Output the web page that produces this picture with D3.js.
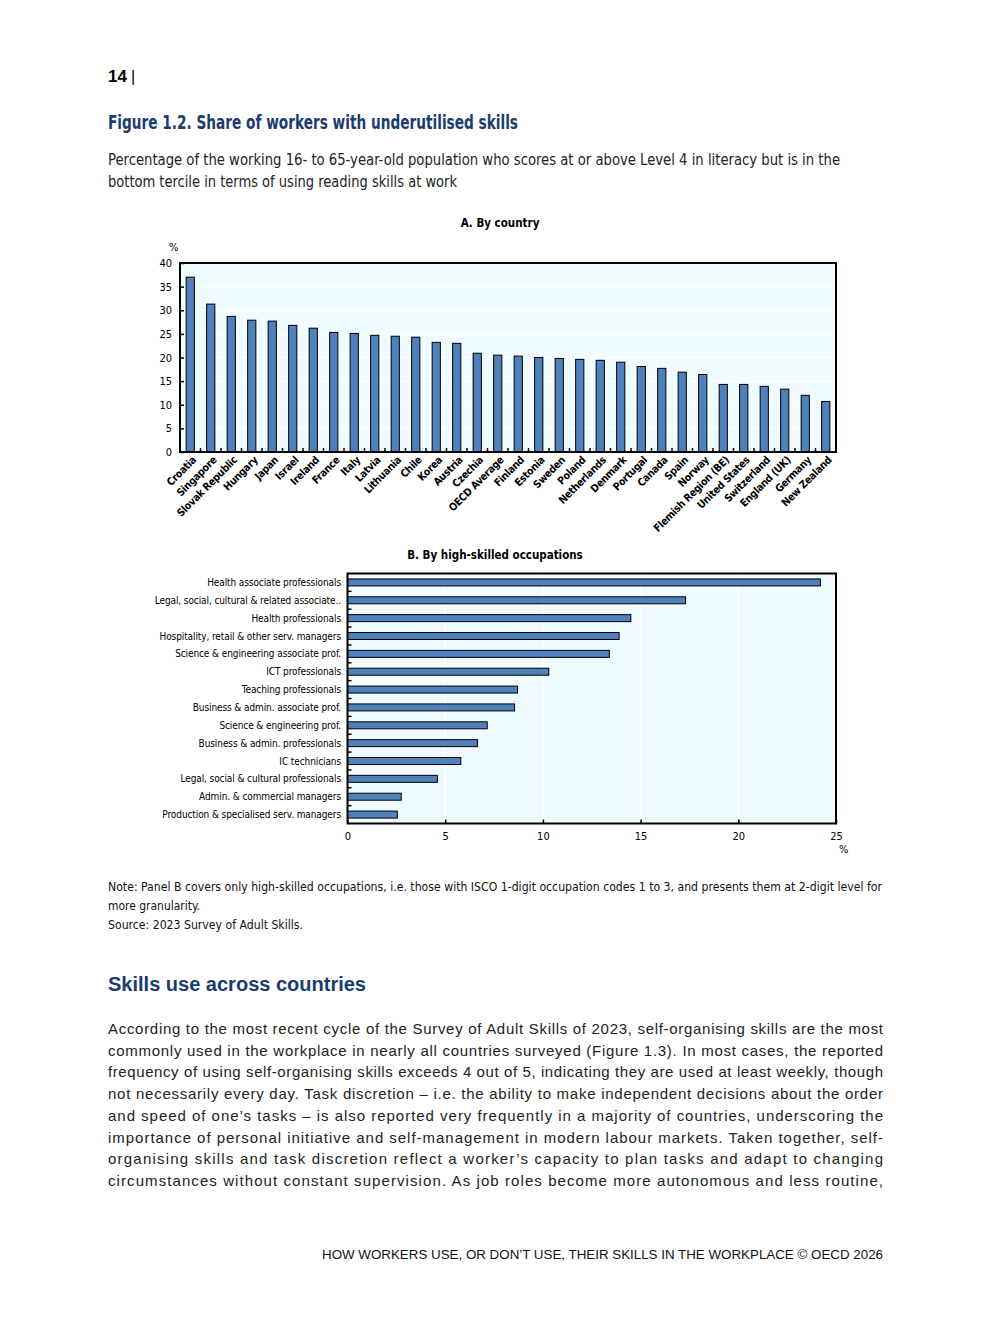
<!DOCTYPE html>
<html>
<head>
<meta charset="utf-8">
<script src="https://cdn.jsdelivr.net/npm/d3@7"></script>
<style>
  body { margin: 0; background: #fff; }
  svg { display: block; }
</style>
</head>
<body>
<div id="page"></div>
<script>
// Panel A data
const countries = ["Croatia", "Singapore", "Slovak Republic", "Hungary", "Japan", "Israel", "Ireland", "France",
  "Italy", "Latvia", "Lithuania", "Chile", "Korea", "Austria", "Czechia", "OECD Average", "Finland", "Estonia",
  "Sweden", "Poland", "Netherlands", "Denmark", "Portugal", "Canada", "Spain", "Norway", "Flemish Region (BE)",
  "United States", "Switzerland", "England (UK)", "Germany", "New Zealand"]
const countryValues = [37.0, 31.3, 28.7, 27.9, 27.7, 26.8, 26.2, 25.3, 25.1, 24.7, 24.5, 24.3, 23.2, 23.0, 20.9,
  20.5, 20.3, 20.0, 19.8, 19.6, 19.4, 19.0, 18.1, 17.7, 16.9, 16.4, 14.3, 14.3, 13.9, 13.3, 12.0, 10.7]
const yTicksA = [0, 5, 10, 15, 20, 25, 30, 35, 40]

// Panel B data
const occupations = ["Health associate professionals", "Legal, social, cultural & related associate..",
  "Health professionals", "Hospitality, retail & other serv. managers", "Science & engineering associate prof.",
  "ICT professionals", "Teaching professionals", "Business & admin. associate prof.", "Science & engineering prof.",
  "Business & admin. professionals", "IC technicians", "Legal, social & cultural professionals",
  "Admin. & commercial managers", "Production & specialised serv. managers"]
const occupationValues = [24.2, 17.3, 14.5, 13.9, 13.4, 10.3, 8.7, 8.55, 7.15, 6.65, 5.8, 4.6, 2.75, 2.55]
const xTicksB = [0, 5, 10, 15, 20, 25]

const bodyLines = [
  "According to the most recent cycle of the Survey of Adult Skills of 2023, self-organising skills are the most",
  "commonly used in the workplace in nearly all countries surveyed (Figure 1.3). In most cases, the reported",
  "frequency of using self-organising skills exceeds 4 out of 5, indicating they are used at least weekly, though",
  "not necessarily every day. Task discretion \u2013 i.e. the ability to make independent decisions about the order",
  "and speed of one\u2019s tasks \u2013 is also reported very frequently in a majority of countries, underscoring the",
  "importance of personal initiative and self-management in modern labour markets. Taken together, self-",
  "organising skills and task discretion reflect a worker\u2019s capacity to plan tasks and adapt to changing",
  "circumstances without constant supervision. As job roles become more autonomous and less routine,"
]

const narrow = "'Liberation Sans Narrow','Arial Narrow','DejaVu Sans Condensed',sans-serif"
const sans = "'Liberation Sans',Arial,sans-serif"
const navy = "#1b3c6e"
const barFill = "#4f81bd"
const plotBg = "#f0fbff"

let svg = d3.select("#page").append("svg")
  .attr("width", 992)
  .attr("height", 1323)

// page header text
svg.append("text").attr("x", 108).attr("y", 82)
  .attr("font-family", sans).attr("font-weight", "bold").attr("font-size", 17).attr("fill", "#000")
  .text("14")
svg.append("text").attr("x", 131).attr("y", 82)
  .attr("font-family", sans).attr("font-size", 16).attr("fill", "#000")
  .text("|")

svg.append("text").attr("x", 108).attr("y", 129)
  .attr("font-family", narrow).attr("font-weight", "bold").attr("font-size", 19).attr("fill", navy)
  .attr("textLength", 410).attr("lengthAdjust", "spacingAndGlyphs")
  .text("Figure 1.2. Share of workers with underutilised skills")

let sub = ["Percentage of the working 16- to 65-year-old population who scores at or above Level 4 in literacy but is in the",
  "bottom tercile in terms of using reading skills at work"]
let subLen = [732, 349]
sub.forEach((s, i) => {
  svg.append("text").attr("x", 108).attr("y", 165 + i * 22)
    .attr("font-family", narrow).attr("font-size", 16).attr("fill", "#222")
    .attr("textLength", subLen[i]).attr("lengthAdjust", "spacingAndGlyphs")
    .text(s)
})

// ---------- Panel A ----------
let xA = d3.scaleBand().domain(countries).range([180, 836])
let yA = d3.scaleLinear().domain([0, 40]).range([452, 263])
let barW = xA.bandwidth() * 0.4

svg.append("text").attr("x", 500).attr("y", 227).attr("text-anchor", "middle")
  .attr("font-family", narrow).attr("font-weight", "bold").attr("font-size", 11.5)
  .text("A. By country")

svg.append("text").attr("x", 169).attr("y", 251)
  .attr("font-family", narrow).attr("font-size", 11)
  .text("%")

let gA = svg.append("g")
gA.append("rect")
  .attr("x", xA.range()[0]).attr("y", yA(40))
  .attr("width", xA.range()[1] - xA.range()[0]).attr("height", yA(0) - yA(40))
  .attr("fill", plotBg)

gA.selectAll("line.grid")
  .data(yTicksA.slice(1, -1))
  .enter().append("line")
  .attr("class", "grid")
  .attr("x1", xA.range()[0]).attr("x2", xA.range()[1])
  .attr("y1", d => yA(d)).attr("y2", d => yA(d))
  .attr("stroke", "#fff").attr("stroke-width", 1)

gA.selectAll("rect.bar")
  .data(countries)
  .enter().append("rect")
  .attr("class", "bar")
  .attr("x", d => xA(d) + (xA.bandwidth() - barW) / 2)
  .attr("y", (d, i) => yA(countryValues[i]))
  .attr("width", barW)
  .attr("height", (d, i) => yA(0) - yA(countryValues[i]))
  .attr("fill", barFill)
  .attr("stroke", "#000").attr("stroke-width", 1)

// category ticks between bars
gA.selectAll("line.ctick")
  .data(countries.slice(1))
  .enter().append("line")
  .attr("class", "ctick")
  .attr("x1", d => xA(d)).attr("x2", d => xA(d))
  .attr("y1", yA(0)).attr("y2", yA(0) - 4)
  .attr("stroke", "#000").attr("stroke-width", 1.5)

let leftAxisA = d3.axisLeft(yA).tickValues(yTicksA).tickSizeInner(-4).tickSizeOuter(0).tickPadding(8)
let yAxisA = gA.append("g")
  .attr("transform", `translate(${xA.range()[0]},0)`)
  .call(leftAxisA)
yAxisA.select(".domain").remove()
yAxisA.selectAll("line").attr("stroke-width", 1.5)
yAxisA.selectAll("text").attr("font-family", narrow).attr("font-size", 11).attr("fill", "#000")

gA.append("rect")
  .attr("x", xA.range()[0]).attr("y", yA(40))
  .attr("width", xA.range()[1] - xA.range()[0]).attr("height", yA(0) - yA(40))
  .attr("fill", "none").attr("stroke", "#000").attr("stroke-width", 2)

gA.selectAll("text.clabel")
  .data(countries)
  .enter().append("text")
  .attr("class", "clabel")
  .attr("transform", d => `translate(${xA(d) + xA.bandwidth() / 2 + 4},${yA(0) + 6}) rotate(-45)`)
  .attr("text-anchor", "end")
  .attr("dy", "0.35em")
  .attr("font-family", narrow).attr("font-weight", "bold").attr("font-size", 10.5)
  .attr("letter-spacing", -0.3)
  .text(d => d)

// ---------- Panel B ----------
let yB = d3.scaleBand().domain(occupations).range([573.5, 823.5])
let xB = d3.scaleLinear().domain([0, 25]).range([347.5, 836])
let barH = 7

svg.append("text").attr("x", 495).attr("y", 559).attr("text-anchor", "middle")
  .attr("font-family", narrow).attr("font-weight", "bold").attr("font-size", 11.5)
  .text("B. By high-skilled occupations")

let gB = svg.append("g")
gB.append("rect")
  .attr("x", xB(0)).attr("y", yB.range()[0])
  .attr("width", xB(25) - xB(0)).attr("height", yB.range()[1] - yB.range()[0])
  .attr("fill", plotBg)

gB.selectAll("line.grid")
  .data(xTicksB.slice(1, -1))
  .enter().append("line")
  .attr("class", "grid")
  .attr("x1", d => xB(d)).attr("x2", d => xB(d))
  .attr("y1", yB.range()[0]).attr("y2", yB.range()[1])
  .attr("stroke", "#fff").attr("stroke-width", 1.5)

gB.selectAll("rect.bar")
  .data(occupations)
  .enter().append("rect")
  .attr("class", "bar")
  .attr("x", xB(0))
  .attr("y", d => yB(d) + (yB.bandwidth() - barH) / 2)
  .attr("width", (d, i) => xB(occupationValues[i]) - xB(0))
  .attr("height", barH)
  .attr("fill", barFill)
  .attr("stroke", "#000").attr("stroke-width", 1)

gB.selectAll("line.ctick")
  .data(occupations.slice(1))
  .enter().append("line")
  .attr("class", "ctick")
  .attr("x1", xB(0)).attr("x2", xB(0) + 4)
  .attr("y1", d => yB(d)).attr("y2", d => yB(d))
  .attr("stroke", "#000").attr("stroke-width", 1.5)

let bottomAxisB = d3.axisBottom(xB).tickValues(xTicksB).tickSizeInner(-4).tickSizeOuter(0).tickPadding(9)
let xAxisB = gB.append("g")
  .attr("transform", `translate(0,${yB.range()[1]})`)
  .call(bottomAxisB)
xAxisB.select(".domain").remove()
xAxisB.selectAll("line").attr("stroke-width", 1.5)
xAxisB.selectAll("text").attr("font-family", narrow).attr("font-size", 11).attr("fill", "#000")

svg.append("text").attr("x", 839).attr("y", 853)
  .attr("font-family", narrow).attr("font-size", 11)
  .text("%")

gB.append("rect")
  .attr("x", xB(0)).attr("y", yB.range()[0])
  .attr("width", xB(25) - xB(0)).attr("height", yB.range()[1] - yB.range()[0])
  .attr("fill", "none").attr("stroke", "#000").attr("stroke-width", 2)

gB.selectAll("text.olabel")
  .data(occupations)
  .enter().append("text")
  .attr("class", "olabel")
  .attr("x", 341)
  .attr("y", d => yB(d) + yB.bandwidth() / 2)
  .attr("dy", "0.35em")
  .attr("text-anchor", "end")
  .attr("font-family", narrow).attr("font-size", 10)
  .attr("letter-spacing", -0.1)
  .text(d => d)

// ---------- notes ----------
let notes = ["Note: Panel B covers only high-skilled occupations, i.e. those with ISCO 1-digit occupation codes 1 to 3, and presents them at 2-digit level for",
  "more granularity.", "Source: 2023 Survey of Adult Skills."]
let noteLen = [774, 92, 195]
notes.forEach((s, i) => {
  svg.append("text").attr("x", 108).attr("y", 891 + i * 19)
    .attr("font-family", narrow).attr("font-size", 12.5).attr("fill", "#111")
    .attr("textLength", noteLen[i]).attr("lengthAdjust", "spacingAndGlyphs")
    .text(s)
})

svg.append("text").attr("x", 108).attr("y", 991)
  .attr("font-family", sans).attr("font-weight", "bold").attr("font-size", 19.5).attr("fill", navy)
  .attr("textLength", 258).attr("lengthAdjust", "spacingAndGlyphs")
  .text("Skills use across countries")

bodyLines.forEach((s, i) => {
  svg.append("text").attr("x", 108).attr("y", 1034 + i * 21.7)
    .attr("font-family", sans).attr("font-size", 15).attr("fill", "#222")
    .attr("textLength", 775).attr("lengthAdjust", "spacing")
    .text(s)
})

svg.append("text").attr("x", 883).attr("y", 1259).attr("text-anchor", "end")
  .attr("font-family", sans).attr("font-size", 12.5).attr("fill", "#111")
  .attr("textLength", 561).attr("lengthAdjust", "spacingAndGlyphs")
  .text("HOW WORKERS USE, OR DON\u2019T USE, THEIR SKILLS IN THE WORKPLACE \u00a9 OECD 2026")
</script>
</body>
</html>
